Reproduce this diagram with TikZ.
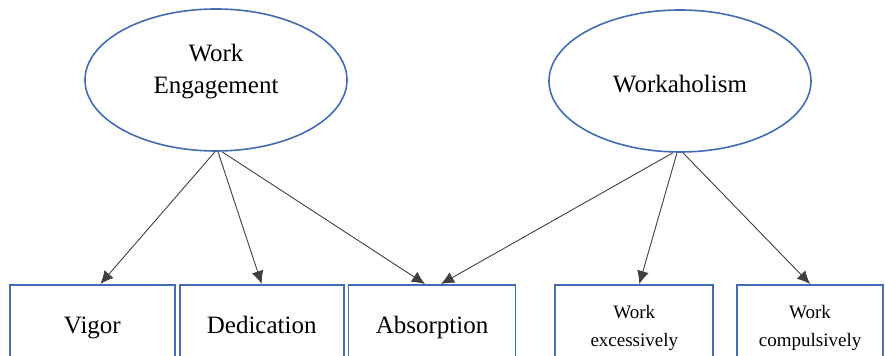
\documentclass[tikz,border=0pt]{standalone}
\usepackage{fontspec}
\setmainfont{Liberation Serif}
\usetikzlibrary{positioning, arrows.meta, shapes.geometric}
\definecolor{linkblue}{RGB}{68,108,180}
\tikzset{
  latent/.style={ellipse, draw=linkblue, line width=0.8pt, align=center,
                 inner sep=0pt, minimum width=131pt, minimum height=71pt,
                 text height=11.5pt, font=\fontsize{12.5}{16}\selectfont},
  box/.style={rectangle, draw=linkblue, line width=0.9pt, align=center,
              inner sep=0pt, minimum height=43pt},
  ind/.style={box, text height=9pt, text depth=3pt, font=\fontsize{12.5}{15}\selectfont},
  indsm/.style={box, font=\fontsize{9.5}{14}\selectfont},
  arr/.style={-{Latex[length=6.5pt,width=6pt]}, draw=black!75, line width=0.45pt},
}

\begin{document}
\begin{tikzpicture}[x=0.5pt, y=-0.5pt, node distance=1.5pt]
  \useasboundingbox (0,0) rectangle (885,356);
  \clip (0,0) rectangle (885,356);
  % latent factors (top)
  \node[latent, text height=16.5pt] (eng) at (216,80) {Work\\Engagement};
  \node[latent] (wah) at (680,81) {Workaholism};
  % indicators (bottom), running off the lower edge
  \node[ind, minimum width=82.5pt, anchor=north west] (vig) at (9,284) {Vigor};
  \node[ind, minimum width=82pt, right=of vig]     (ded) {Dedication};
  \node[ind, minimum width=83.5pt, right=of ded]   (abs) {Absorption};
  \node[indsm, minimum width=79pt, right=19pt of abs] (exc) {Work\\excessively};
  \node[indsm, minimum width=73pt, right=11pt of exc] (cmp) {Work\\compulsively};
  % loadings
  \draw[arr] ([xshift=-0.5pt]eng.south) -- ([xshift=4pt]vig.north);
  \draw[arr] ([xshift=1pt]eng.south) -- (ded.north);
  \draw[arr] ([xshift=3pt]eng.south) -- ([xshift=-3.5pt]abs.north);
  \draw[arr] ([xshift=-3.5pt]wah.south) -- ([xshift=4.5pt]abs.north);
  \draw[arr] ([xshift=-1.5pt]wah.south) -- ([xshift=2.5pt]exc.north);
  \draw[arr] ([xshift=1.5pt]wah.south) -- (cmp.north);
\end{tikzpicture}
\end{document}
